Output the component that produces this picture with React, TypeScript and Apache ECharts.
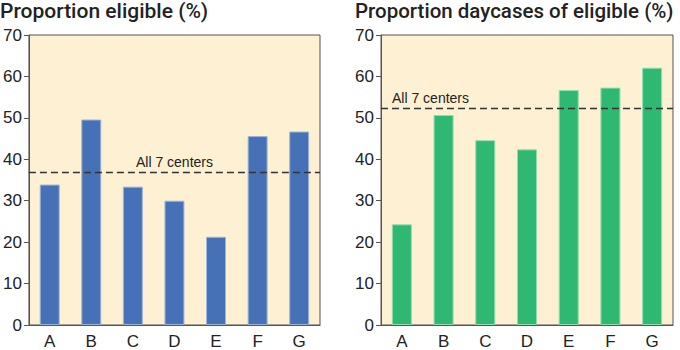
import React, { useEffect, useRef } from "react";
import * as echarts from "echarts";

const categories = ["A", "B", "C", "D", "E", "F", "G"];
const eligible = [33.9, 49.6, 33.4, 30.0, 21.3, 45.6, 46.7];
const daycases = [24.3, 50.7, 44.6, 42.4, 56.7, 57.3, 62.1];
const eligibleAll = 36.9;
const daycasesAll = 52.3;
const titles = ["Proportion eligible (%)", "Proportion daycases of eligible (%)"];
const refLabel = "All 7 centers";

export default function App() {
  const ref = useRef<HTMLDivElement>(null);
  useEffect(() => {
    const chart = echarts.init(ref.current!, null, { renderer: "svg" });
    const font = "Liberation Sans, Arial, Helvetica, sans-serif";
    const tfont = "Roboto, Liberation Sans, Arial, sans-serif";
    const grids = [
      { left: 27, right: 360, top: 35, bottom: 23 },
      { left: 381, right: 7, top: 35, bottom: 23 },
    ].map((g) => ({
      ...g,
      show: true,
      backgroundColor: "#FEF0D2",
      borderColor: "#555",
      borderWidth: 1,
      containLabel: false,
    }));
    const xAxis = [0, 1].map((i) => ({
      type: "category" as const,
      gridIndex: i,
      data: categories,
      axisLine: { show: true, lineStyle: { color: "#555", width: 1 } },
      axisTick: { show: false },
      axisLabel: { color: "#222", fontSize: 17, fontFamily: font, margin: 8 },
    }));
    const yAxis = [0, 1].map((i) => ({
      type: "value" as const,
      gridIndex: i,
      min: 0,
      max: 70,
      interval: 10,
      splitLine: { show: false },
      axisLine: { show: true, lineStyle: { color: "#555", width: 1 } },
      axisTick: { show: true, length: 5, lineStyle: { color: "#555" } },
      axisLabel: { color: "#222", fontSize: 17, fontFamily: font, margin: 7 },
    }));
    const mk = (val: number, pos: string, dist: any) => ({
      silent: true,
      symbol: "none",
      lineStyle: { color: "#333", type: [7, 4], width: 1.3 },
      label: {
        show: true,
        formatter: refLabel,
        position: pos,
        color: "#222",
        fontSize: 14,
        fontFamily: font,
        distance: dist,
      },
      data: [{ yAxis: val }],
    });
    chart.setOption({
      animation: false,
      title: [
        {
          text: titles[0],
          left: 0,
          top: 0,
          padding: 0,
          textStyle: { fontSize: 21, lineHeight: 21, fontWeight: 500, color: "#222", fontFamily: tfont },
        },
        {
          text: titles[1],
          left: 355,
          top: 0,
          padding: 0,
          textStyle: { fontSize: 20.5, lineHeight: 21, fontWeight: 500, color: "#222", fontFamily: tfont },
        },
      ],
      grid: grids,
      xAxis,
      yAxis,
      series: [
        {
          type: "bar",
          xAxisIndex: 0,
          yAxisIndex: 0,
          data: eligible,
          barWidth: "48%",
          itemStyle: { color: "#4771B6", borderColor: "#9DB4DA", borderWidth: 1 },
          markLine: mk(eligibleAll, "middle", 3),
        },
        {
          type: "bar",
          xAxisIndex: 1,
          yAxisIndex: 1,
          data: daycases,
          barWidth: "48%",
          itemStyle: { color: "#2EB872", borderColor: "#92DDB0", borderWidth: 1 },
          markLine: mk(daycasesAll, "insideStartTop", [11, 3]),
        },
      ],
    });
    return () => chart.dispose();
  }, []);
  return <div ref={ref} style={{ width: 680, height: 350, position: "absolute", left: 0, top: 0 }} />;
}
